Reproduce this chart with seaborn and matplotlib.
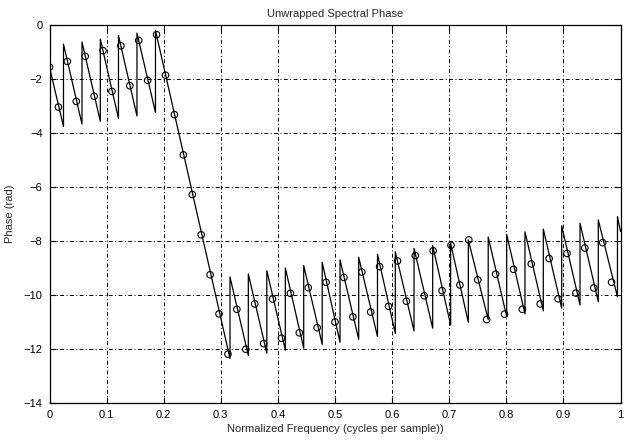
import matplotlib
matplotlib.use("Agg")
import matplotlib.pyplot as plt
import seaborn as sns
import numpy as np
import pandas as pd

# ---- data ----
# sampled phase values (circles) at k/64, k = 0..63
sample_phase = [
    -1.56, -3.04, -1.35, -2.83, -1.16, -2.64, -0.95, -2.46, -0.77, -2.25,
    -0.57, -2.05, -0.36, -1.86, -3.32, -4.81, -6.28, -7.77, -9.25, -10.70,
    -12.19, -10.53, -12.01, -10.33, -11.80, -10.15, -11.60, -9.94, -11.40, -9.73,
    -11.21, -9.53, -11.00, -9.35, -10.81, -9.15, -10.63, -8.95, -10.42, -8.74,
    -10.23, -8.54, -10.03, -8.36, -9.84, -8.16, -9.63, -7.96, -9.44, -10.91,
    -9.23, -10.71, -9.05, -10.53, -8.85, -10.33, -8.65, -10.14, -8.46, -9.93,
    -8.26, -9.74, -8.06, -9.53,
]
sample_freq = [k / 64 for k in range(len(sample_phase))]

# dense curve: start point, phase jumps (bottom -> top), end point
curve_start = (0.0, -1.56)
jump_freq = [
    0.0245, 0.0569, 0.0890, 0.1208, 0.1532, 0.1856,
    0.3161, 0.3482, 0.3806, 0.4130, 0.4452, 0.4776, 0.5088, 0.5415,
    0.5744, 0.6056, 0.6384, 0.6711, 0.7025, 0.7335, 0.7683, 0.8007,
    0.8327, 0.8648, 0.8970, 0.9291, 0.9611, 0.9947,
]
jump_bottom = [
    -3.76, -3.67, -3.57, -3.46, -3.37, -3.24,
    -12.35, -12.24, -12.16, -12.04, -11.97, -11.83, -11.75, -11.64,
    -11.54, -11.42, -11.33, -11.23, -11.11, -11.01, -10.91, -10.80,
    -10.70, -10.59, -10.49, -10.37, -10.25, -10.07,
]
jump_top = [
    -0.71, -0.63, -0.52, -0.39, -0.30, -0.20,
    -9.33, -9.22, -9.10, -9.00, -8.91, -8.79, -8.70, -8.60,
    -8.49, -8.40, -8.27, -8.17, -8.09, -7.96, -7.85, -7.76,
    -7.66, -7.56, -7.44, -7.34, -7.22, -7.10,
]
curve_end = (1.0, -7.65)

x_ticks = [0, 0.1, 0.2, 0.3, 0.4, 0.5, 0.6, 0.7, 0.8, 0.9, 1]
x_tick_labels = ["0", "0.1", "0.2", "0.3", "0.4", "0.5", "0.6", "0.7", "0.8", "0.9", "1"]
y_ticks = [0, -2, -4, -6, -8, -10, -12, -14]

# ---- build tables ----
cx = [curve_start[0]]
cy = [curve_start[1]]
for f, b, t in zip(jump_freq, jump_bottom, jump_top):
    cx += [f, f]
    cy += [b, t]
cx.append(curve_end[0])
cy.append(curve_end[1])
curve_df = pd.DataFrame({"freq": cx, "phase": cy})
samp_df = pd.DataFrame({"freq": sample_freq, "phase": sample_phase})

# ---- plot ----
sns.set_style("ticks")
plt.rcParams["font.family"] = ["Liberation Sans", "DejaVu Sans"]

fig = plt.figure(figsize=(6.25, 4.43), dpi=100)
ax = fig.add_axes([0.0792, 0.0903, 0.9136, 0.8533])

sns.lineplot(data=curve_df, x="freq", y="phase", estimator=None, sort=False,
             color="black", linewidth=0.9, ax=ax)
sns.scatterplot(data=samp_df, x="freq", y="phase", marker="o", s=22,
                facecolors="none", edgecolor="black", linewidth=0.8, ax=ax, zorder=3)

ax.set_xlim(0, 1)
ax.set_ylim(-14, 0)
ax.set_xticks(x_ticks)
ax.set_xticklabels(x_tick_labels)
ax.set_yticks(y_ticks)
ax.grid(True, color="black", linestyle=(0, (4, 2.5, 1, 2.5)), linewidth=0.7)
ax.tick_params(direction="in", length=4, width=0.8, labelsize=8, colors="black",
               top=True, right=True, pad=5)
for sp in ax.spines.values():
    sp.set_color("black")
    sp.set_linewidth(0.9)

ax.set_title("Unwrapped Spectral Phase", fontsize=8, pad=6)
ax.set_xlabel("Normalized Frequency (cycles per sample))", fontsize=8, labelpad=3)
ax.set_ylabel("Phase (rad)", fontsize=8, labelpad=6)

fig.savefig("out.png", dpi=100)
